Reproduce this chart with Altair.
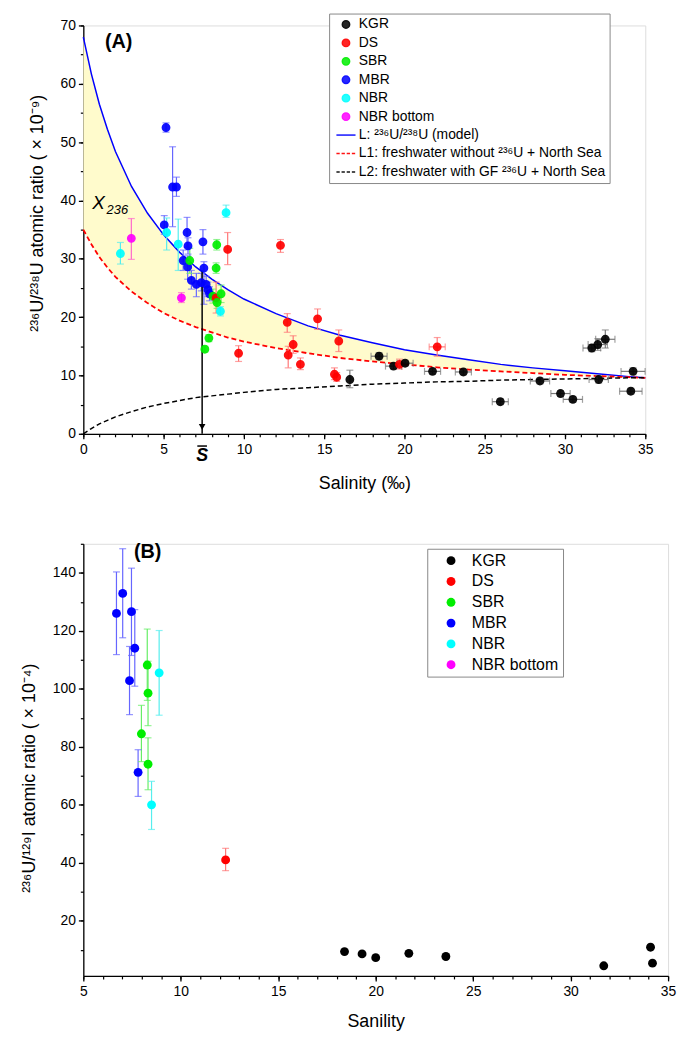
import altair as alt
import pandas as pd

# ---------------- Panel A data ----------------
kgr_a_s = [16.6, 18.42, 19.32, 20.04, 21.75, 23.67, 25.97, 28.44, 29.72, 30.49, 31.67, 32.04, 32.51, 32.1, 34.24, 34.1]
kgr_a_v = [9.3, 13.3, 11.6, 12.1, 10.7, 10.6, 5.5, 9.05, 6.9, 5.9, 14.7, 15.3, 16.2, 9.3, 10.7, 7.3]
kgr_a_lo = [7.9, 12.7, 11.1, 11.6, 10.2, 10.1, 5.0, 8.55, 6.4, 5.4, 14.1, 14.3, 14.7, 8.7, 10.1, 6.8]
kgr_a_hi = [10.9, 13.9, 12.1, 12.6, 11.2, 11.1, 6.0, 9.55, 7.4, 6.4, 15.3, 16.3, 17.8, 9.9, 11.3, 7.8]
kgr_a_xerr = [0, 0.5, 0.5, 0.5, 0.5, 0.5, 0.5, 0.6, 0.6, 0.6, 0.55, 0.6, 0.6, 0.6, 0.75, 0.7]

ds_a_s = [8.99, 8.27, 9.67, 12.28, 12.70, 14.59, 13.07, 12.76, 13.52, 15.91, 15.64, 15.78, 19.69, 22.04]
ds_a_v = [31.6, 23.3, 13.8, 32.3, 19.1, 19.7, 15.3, 13.5, 11.9, 15.9, 10.2, 9.7, 11.9, 14.9]
ds_a_lo = [29.0, 20.7, 12.4, 31.1, 17.4, 17.9, 13.8, 11.3, 11.0, 14.1, 9.3, 9.0, 11.1, 13.3]
ds_a_hi = [34.5, 26.0, 15.1, 33.3, 20.6, 21.4, 16.8, 15.0, 13.0, 17.8, 11.3, 10.5, 12.8, 16.5]
ds_a_xerr = [0, 0, 0, 0, 0, 0, 0, 0, 0, 0, 0, 0, 0, 0.5]

sbr_a_s = [8.31, 8.27, 6.63, 8.58, 8.07, 8.33, 7.82, 7.57]
sbr_a_v = [32.4, 28.4, 29.7, 24.0, 23.6, 22.5, 16.4, 14.5]
sbr_a_lo = [31.5, 27.5, 27.5, 22.5, 22.4, 21.5, 15.8, 14.0]
sbr_a_hi = [33.3, 29.3, 31.8, 25.5, 24.8, 23.5, 17.0, 15.0]

mbr_a_s = [5.15, 5.56, 5.80, 5.04, 6.46, 6.52, 7.45, 7.51, 6.22, 6.50, 6.73, 7.04, 7.35, 7.65, 7.76, 7.86]
mbr_a_v = [52.5, 42.3, 42.3, 35.8, 34.5, 32.2, 32.9, 28.4, 29.7, 28.6, 26.3, 25.6, 25.9, 25.6, 24.7, 24.0]
mbr_a_lo = [51.7, 35.5, 40.7, 34.2, 32.0, 30.8, 30.8, 22.2, 28.0, 26.5, 24.8, 23.5, 24.5, 24.0, 23.5, 22.8]
mbr_a_hi = [53.3, 49.2, 44.0, 37.4, 37.1, 33.6, 35.0, 29.5, 31.5, 30.5, 28.0, 27.5, 27.5, 27.0, 26.0, 25.2]

nbr_a_s = [2.31, 5.19, 5.91, 8.89, 8.54]
nbr_a_v = [30.9, 34.5, 32.5, 37.9, 21.0]
nbr_a_lo = [29.1, 31.5, 28.0, 37.1, 20.2]
nbr_a_hi = [32.8, 37.0, 36.8, 39.2, 21.8]

nbrb_a_s = [2.99, 6.11]
nbrb_a_v = [33.5, 23.3]
nbrb_a_lo = [29.9, 22.5]
nbrb_a_hi = [36.9, 24.2]

# model curves
curve_s = [0, 0.5, 1, 1.5, 2, 3, 4, 5, 6, 7, 8, 9, 10, 12, 14, 16, 18, 20, 22, 24, 26, 28, 30, 32, 34, 35]
curve_L = [68.0, 61.7, 56.5, 52.2, 48.4, 42.4, 37.8, 34.1, 31.1, 28.6, 26.5, 24.7, 23.1, 20.6, 18.5, 16.9,
           15.6, 14.4, 13.5, 12.7, 11.9, 11.3, 10.8, 10.3, 9.8, 9.6]
curve_L1 = [35.0, 32.5, 30.3, 28.5, 26.9, 24.4, 22.4, 20.7, 19.4, 18.3, 17.4, 16.5, 15.8, 14.7, 13.8, 13.0,
            12.4, 11.9, 11.4, 11.0, 10.7, 10.4, 10.1, 9.9, 9.7, 9.6]
curve_L2 = [0.0, 0.9, 1.7, 2.3, 2.9, 3.8, 4.6, 5.2, 5.7, 6.2, 6.5, 6.8, 7.1, 7.6, 7.9, 8.2,
            8.5, 8.7, 8.9, 9.0, 9.2, 9.3, 9.4, 9.5, 9.6, 9.6]

s_bar = 7.4
s_bar_top = 28.0

# ---------------- Panel B data ----------------
kgr_b_s = [18.4, 19.3, 20.0, 21.7, 23.6, 31.7, 34.1, 34.2]
kgr_b_v = [9.4, 8.6, 7.3, 8.8, 7.7, 4.5, 10.9, 5.4]

ds_b_s = [12.3]
ds_b_v = [41.0]
ds_b_lo = [37.3]
ds_b_hi = [45.0]

sbr_b_s = [8.28, 8.32, 7.98, 8.32]
sbr_b_v = [108.2, 98.5, 84.5, 74.0]
sbr_b_lo = [96.0, 87.3, 74.9, 65.2]
sbr_b_hi = [120.6, 109.5, 94.3, 83.1]

mbr_b_s = [6.70, 7.02, 7.47, 7.64, 7.37, 7.81]
mbr_b_v = [126.0, 132.9, 126.6, 114.0, 102.8, 71.2]
mbr_b_lo = [111.8, 117.6, 111.5, 100.9, 91.1, 62.9]
mbr_b_hi = [140.3, 148.3, 141.6, 127.3, 114.6, 79.0]

nbr_b_s = [8.89, 8.50]
nbr_b_v = [105.5, 60.0]
nbr_b_lo = [90.9, 51.5]
nbr_b_hi = [120.1, 68.1]

# ---------------- styling ----------------
groups = ["KGR", "DS", "SBR", "MBR", "NBR", "NBR bottom"]
group_colors = ["#000000", "#FF0000", "#00EE00", "#0000FF", "#00FFFF", "#FF00FF"]
err_colors = {"KGR": "#777777", "DS": "#FF7777", "SBR": "#66EE66", "MBR": "#6666FF",
              "NBR": "#55EEEE", "NBR bottom": "#FF66CC"}
line_names = ["L: \u00b2\u00b3\u2076U/\u00b2\u00b3\u2078U (model)",
              "L1: freshwater without \u00b2\u00b3\u2076U + North Sea",
              "L2: freshwater with GF \u00b2\u00b3\u2076U + North Sea"]
line_colors = ["#0000FF", "#FF0000", "#000000"]
FONT = "Liberation Sans"

solid_path = "M-2.6,0H2.6"
dash_path = "M-2.6,0H-1.7M-1.2,0H-0.3M0.2,0H1.1M1.6,0H2.5"


def rows(name, s, v, lo=None, hi=None, xerr=None):
    out = []
    for i in range(len(s)):
        e = 0 if xerr is None else xerr[i]
        out.append({"series": name, "s": s[i], "v": v[i],
                    "lo": v[i] if lo is None else lo[i],
                    "hi": v[i] if hi is None else hi[i],
                    "xlo": s[i] - e, "xhi": s[i] + e, "has_x": e > 0,
                    "has_y": lo is not None, "ec": err_colors[name]})
    return out


dfA = pd.DataFrame(rows("KGR", kgr_a_s, kgr_a_v, kgr_a_lo, kgr_a_hi, kgr_a_xerr)
                   + rows("DS", ds_a_s, ds_a_v, ds_a_lo, ds_a_hi, ds_a_xerr)
                   + rows("SBR", sbr_a_s, sbr_a_v, sbr_a_lo, sbr_a_hi)
                   + rows("NBR", nbr_a_s, nbr_a_v, nbr_a_lo, nbr_a_hi)
                   + rows("NBR bottom", nbrb_a_s, nbrb_a_v, nbrb_a_lo, nbrb_a_hi)
                   + rows("MBR", mbr_a_s, mbr_a_v, mbr_a_lo, mbr_a_hi))
dfB = pd.DataFrame(rows("KGR", kgr_b_s, kgr_b_v)
                   + rows("DS", ds_b_s, ds_b_v, ds_b_lo, ds_b_hi)
                   + rows("SBR", sbr_b_s, sbr_b_v, sbr_b_lo, sbr_b_hi)
                   + rows("NBR", nbr_b_s, nbr_b_v, nbr_b_lo, nbr_b_hi)
                   + rows("MBR", mbr_b_s, mbr_b_v, mbr_b_lo, mbr_b_hi))
dfC = pd.DataFrame({"s": curve_s, "L": curve_L, "L1": curve_L1, "L2": curve_L2})

axis_common = dict(domainColor="black", domainWidth=1.3, tickColor="black", tickWidth=1.3,
                   grid=False, labelColor="black", labelFont=FONT, titleFont=FONT,
                   titleColor="black", titleFontWeight="normal")


def minor_axis(orient, values):
    return alt.Axis(orient=orient, values=values, tickSize=3, labels=False, domain=False,
                    title=None, grid=False, tickColor="black", tickWidth=1.2)


# ---------------- Panel A ----------------
xsA = alt.Scale(domain=[0, 35], nice=False, zero=False)
ysA = alt.Scale(domain=[0, 70], nice=False, zero=False)

xA_major = alt.Axis(orient="bottom", values=list(range(0, 36, 5)), tickSize=5, labelFontSize=14,
                    labelPadding=4, labelFlush=False, title="Salinity (\u2030)", titleFontSize=18,
                    titlePadding=18, **axis_common)
yA_major = alt.Axis(orient="left", values=list(range(0, 71, 10)), tickSize=5, labelFontSize=14,
                    labelPadding=3,
                    title="\u00b2\u00b3\u2076U/\u00b2\u00b3\u2078U atomic ratio ( \u00d7 10\u207b\u2079)",
                    titleFontSize=18, titleX=-37, titleY=189, **axis_common)

domA = groups + line_names
legA = alt.Legend(title=None, orient="none", legendX=248, legendY=-12, labelFontSize=14,
                  labelFont=FONT, labelColor="black", labelLimit=400, symbolSize=55,
                  symbolStrokeWidth=1.5, strokeColor="#888888", padding=4, rowPadding=4.6,
                  symbolOffset=6, labelOffset=6, fillColor="white")

band = alt.Chart(dfC).mark_area(color="#FFFBCC", opacity=1).encode(
    x=alt.X("s:Q", scale=xsA, axis=xA_major),
    y=alt.Y("L:Q", scale=ysA, axis=yA_major),
    y2="L1:Q")
minor_axes = alt.Chart(dfC).mark_line(opacity=0).encode(
    x=alt.X("s:Q", scale=xsA, axis=minor_axis("bottom", list(range(0, 36)))),
    y=alt.Y("L:Q", scale=ysA, axis=minor_axis("left", list(range(0, 71, 5)))))
line_L = alt.Chart(dfC).mark_line(color="#0000FF", strokeWidth=1.5).encode(
    x=alt.X("s:Q", scale=xsA, axis=None), y=alt.Y("L:Q", scale=ysA, axis=None))
line_L1 = alt.Chart(dfC).mark_line(color="#FF0000", strokeWidth=1.8, strokeDash=[5, 3]).encode(
    x=alt.X("s:Q", scale=xsA, axis=None), y=alt.Y("L1:Q", scale=ysA, axis=None))
line_L2 = alt.Chart(dfC).mark_line(color="#000000", strokeWidth=1.5, strokeDash=[5, 3]).encode(
    x=alt.X("s:Q", scale=xsA, axis=None), y=alt.Y("L2:Q", scale=ysA, axis=None))


def errbars(df, xs, ys, cap):
    ebase = alt.Chart(df).transform_filter("datum.has_y")
    xbase = alt.Chart(df).transform_filter("datum.has_x")
    ex = alt.X("s:Q", scale=xs, axis=None)
    vr = ebase.mark_rule(strokeWidth=1.2).encode(
        x=ex, y=alt.Y("lo:Q", scale=ys, axis=None), y2="hi:Q",
        stroke=alt.Stroke("ec:N", scale=None))
    vt1 = ebase.mark_tick(orient="horizontal", size=cap, thickness=1.2).encode(
        x=ex, y=alt.Y("lo:Q", scale=ys, axis=None), color=alt.Color("ec:N", scale=None))
    vt2 = ebase.mark_tick(orient="horizontal", size=cap, thickness=1.2).encode(
        x=ex, y=alt.Y("hi:Q", scale=ys, axis=None), color=alt.Color("ec:N", scale=None))
    hr = xbase.mark_rule(strokeWidth=1.2).encode(
        x=alt.X("xlo:Q", scale=xs, axis=None), x2="xhi:Q",
        y=alt.Y("v:Q", scale=ys, axis=None), stroke=alt.Stroke("ec:N", scale=None))
    ht1 = xbase.mark_tick(orient="vertical", size=cap, thickness=1.2).encode(
        x=alt.X("xlo:Q", scale=xs, axis=None), y=alt.Y("v:Q", scale=ys, axis=None),
        color=alt.Color("ec:N", scale=None))
    ht2 = xbase.mark_tick(orient="vertical", size=cap, thickness=1.2).encode(
        x=alt.X("xhi:Q", scale=xs, axis=None), y=alt.Y("v:Q", scale=ys, axis=None),
        color=alt.Color("ec:N", scale=None))
    return [vr, vt1, vt2, hr, ht1, ht2]


ptsA = alt.Chart(dfA).mark_point(size=55, opacity=0.92, strokeWidth=1.5).encode(
    x=alt.X("s:Q", scale=xsA, axis=None),
    y=alt.Y("v:Q", scale=ysA, axis=None),
    fill=alt.Fill("series:N", scale=alt.Scale(domain=domA, range=group_colors + line_colors), legend=legA),
    stroke=alt.Stroke("series:N", scale=alt.Scale(domain=domA, range=group_colors + line_colors), legend=legA),
    shape=alt.Shape("series:N", scale=alt.Scale(domain=domA, range=["circle"] * 6 + [solid_path, dash_path, dash_path]),
                    legend=legA),
    order=alt.Order("s:Q"))

arrow_df = pd.DataFrame({"s": [s_bar], "top": [s_bar_top], "bot": [0.0], "head": [1.2]})
arrow_rule = alt.Chart(arrow_df).mark_rule(color="black", strokeWidth=1.5).encode(
    x=alt.X("s:Q", scale=xsA, axis=None), y=alt.Y("top:Q", scale=ysA, axis=None), y2="bot:Q")
arrow_head = alt.Chart(arrow_df).mark_point(shape="triangle-down", filled=True, color="black",
                                            size=45, opacity=1).encode(
    x=alt.X("s:Q", scale=xsA, axis=None), y=alt.Y("head:Q", scale=ysA, axis=None))

# annotations (data coordinates)
ann_A = pd.DataFrame({"s": [2.2], "v": [67.2], "t": ["(A)"]})
ann_X = pd.DataFrame({"s": [0.95], "v": [39.6], "t": ["X"]})
ann_X236 = pd.DataFrame({"s": [1.45], "v": [38.4], "t": ["236"]})
ann_S = pd.DataFrame({"s": [s_bar], "v": [-3.9], "t": ["S"]})
ann_Sbar = pd.DataFrame({"s": [s_bar - 0.3], "s2": [s_bar + 0.3], "v": [-2.1]})

txt_A = alt.Chart(ann_A).mark_text(fontSize=20, fontWeight="bold", font=FONT, color="black").encode(
    x=alt.X("s:Q", scale=xsA, axis=None), y=alt.Y("v:Q", scale=ysA, axis=None), text="t:N")
txt_X = alt.Chart(ann_X).mark_text(fontSize=19, fontStyle="italic", font=FONT, color="black").encode(
    x=alt.X("s:Q", scale=xsA, axis=None), y=alt.Y("v:Q", scale=ysA, axis=None), text="t:N")
txt_X236 = alt.Chart(ann_X236).mark_text(fontSize=13, fontStyle="italic", font=FONT, color="black",
                                        align="left").encode(
    x=alt.X("s:Q", scale=xsA, axis=None), y=alt.Y("v:Q", scale=ysA, axis=None), text="t:N")
txt_S = alt.Chart(ann_S).mark_text(fontSize=18, fontWeight="bold", fontStyle="italic", font=FONT,
                                   color="black").encode(
    x=alt.X("s:Q", scale=xsA, axis=None), y=alt.Y("v:Q", scale=ysA, axis=None), text="t:N")
bar_S = alt.Chart(ann_Sbar).mark_rule(color="black", strokeWidth=1.5).encode(
    x=alt.X("s:Q", scale=xsA, axis=None), x2="s2:Q", y=alt.Y("v:Q", scale=ysA, axis=None))

panelA = alt.layer(
    band, minor_axes, line_L, line_L1, line_L2,
    *errbars(dfA, xsA, ysA, 7),
    arrow_rule, arrow_head, ptsA,
    txt_A, txt_X, txt_X236, txt_S, bar_S
).resolve_axis(x="independent", y="independent").properties(width=567, height=412)

# ---------------- Panel B ----------------
xsB = alt.Scale(domain=[5, 35], nice=False, zero=False)
ysB = alt.Scale(domain=[1, 150], nice=False, zero=False)

xB_major = alt.Axis(orient="bottom", values=list(range(5, 36, 5)), tickSize=5, labelFontSize=14,
                    labelPadding=4, labelFlush=False, title="Sanility", titleFontSize=18,
                    titlePadding=14, **axis_common)
yB_major = alt.Axis(orient="left", values=list(range(20, 141, 20)), tickSize=5, labelFontSize=14,
                    labelPadding=3,
                    title="\u00b2\u00b3\u2076U/\u00b9\u00b2\u2079I atomic ratio ( \u00d7 10\u207b\u2074)",
                    titleFontSize=18, titleX=-45, titleY=236, **axis_common)

legB = alt.Legend(title=None, orient="none", legendX=347, legendY=5, labelFontSize=16,
                  labelFont=FONT, labelColor="black", symbolSize=80, symbolStrokeWidth=0,
                  strokeColor="#888888", padding=4, rowPadding=5, symbolOffset=12,
                  labelOffset=13, fillColor="white")

axesB = alt.Chart(dfB).mark_point(opacity=0).encode(
    x=alt.X("s:Q", scale=xsB, axis=xB_major), y=alt.Y("v:Q", scale=ysB, axis=yB_major))
minorB = alt.Chart(dfB).mark_point(opacity=0).encode(
    x=alt.X("s:Q", scale=xsB, axis=minor_axis("bottom", list(range(5, 36)))),
    y=alt.Y("v:Q", scale=ysB, axis=minor_axis("left", list(range(10, 151, 10)))))
ptsB = alt.Chart(dfB).mark_point(size=80, opacity=1, strokeWidth=0).encode(
    x=alt.X("s:Q", scale=xsB, axis=None),
    y=alt.Y("v:Q", scale=ysB, axis=None),
    fill=alt.Fill("series:N", scale=alt.Scale(domain=groups, range=group_colors), legend=legB),
    shape=alt.Shape("series:N", scale=alt.Scale(domain=groups, range=["circle"] * 6), legend=legB))
ann_B = pd.DataFrame({"s": [8.3], "v": [147.0], "t": ["(B)"]})
txt_B = alt.Chart(ann_B).mark_text(fontSize=20, fontWeight="bold", font=FONT, color="black").encode(
    x=alt.X("s:Q", scale=xsB, axis=None), y=alt.Y("v:Q", scale=ysB, axis=None), text="t:N")

panelB = alt.layer(
    axesB, minorB, *errbars(dfB, xsB, ysB, 7), ptsB, txt_B
).resolve_axis(x="independent", y="independent").properties(width=590, height=436)

chart = alt.vconcat(panelA, panelB, spacing=49).resolve_scale(
    fill="independent", stroke="independent", shape="independent", color="independent"
).resolve_legend(fill="independent", stroke="independent", shape="independent").properties(
    padding={"left": 12, "top": 0, "right": 0, "bottom": 0}
).configure_view(stroke=None).configure(font=FONT)

chart.save("out.html", embed_options={"renderer": "svg", "actions": False})
